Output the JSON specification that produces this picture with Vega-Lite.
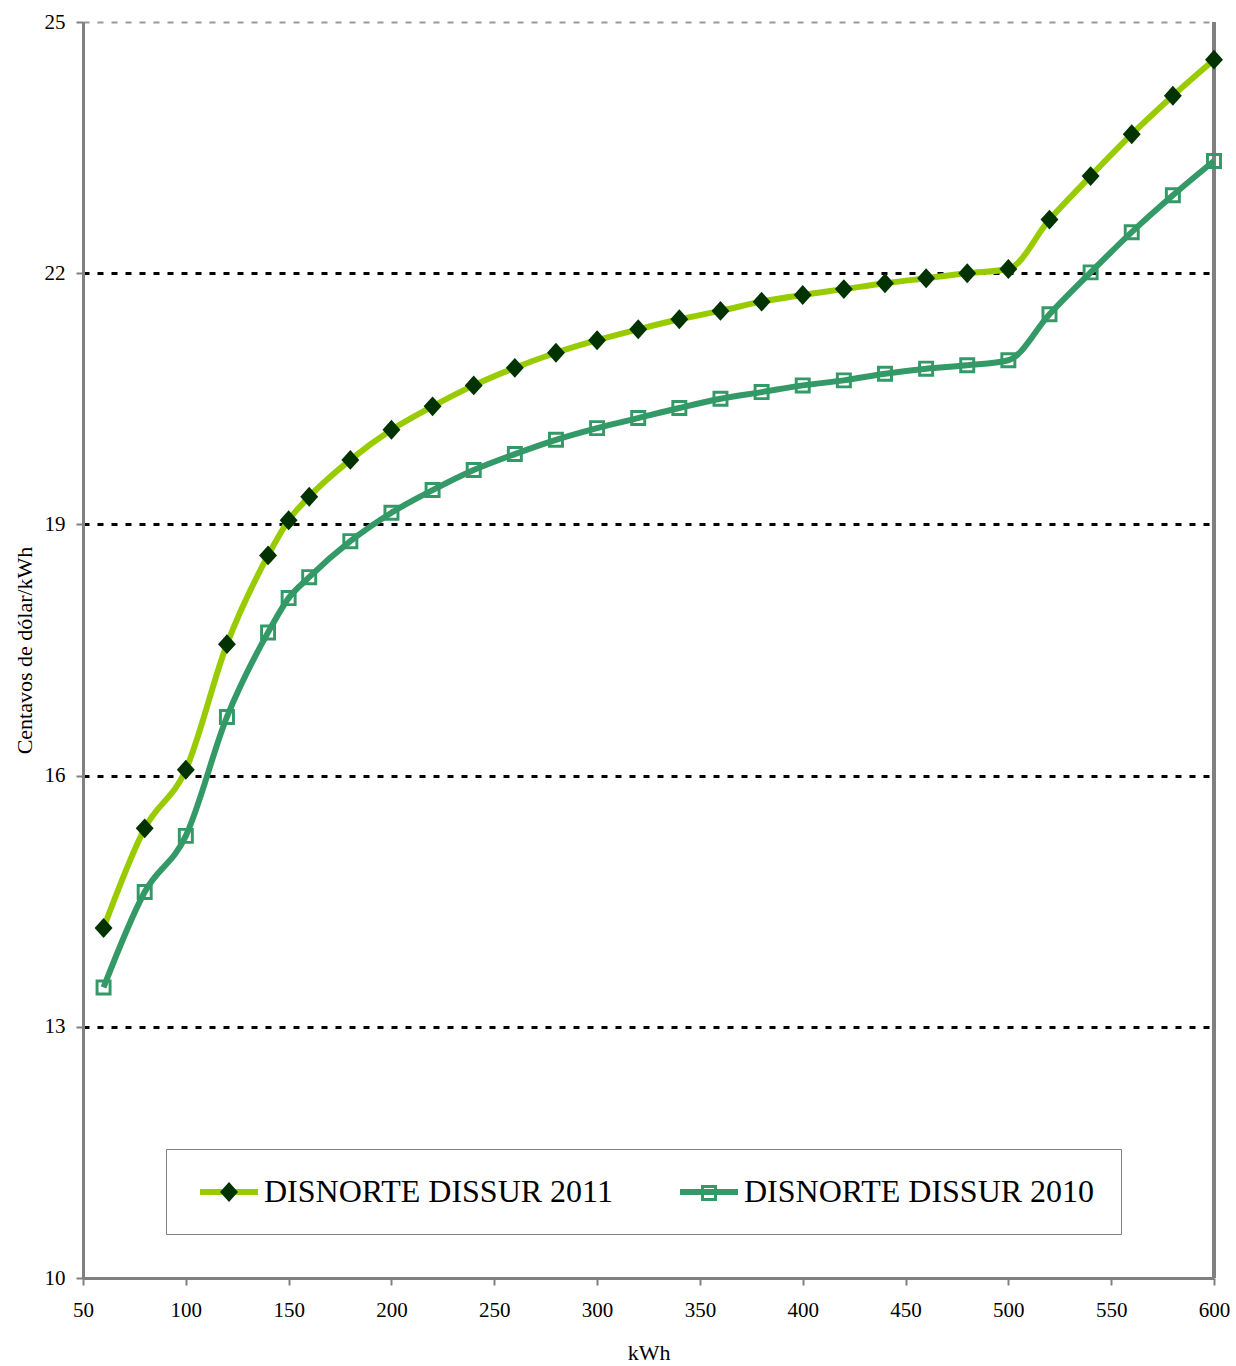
{
  "$schema": "https://vega.github.io/schema/vega-lite/v6.json",
  "width": 1131,
  "height": 1256,
  "autosize": "none",
  "padding": {"left": 83, "top": 22, "right": 22, "bottom": 88},
  "background": "white",
  "config": {"view": {"stroke": null}, "font": "Liberation Serif"},
  "data": {"values": [
    {"kwh": 60, "serie": "DISNORTE DISSUR 2011", "v": 14.18},
    {"kwh": 80, "serie": "DISNORTE DISSUR 2011", "v": 15.37},
    {"kwh": 100, "serie": "DISNORTE DISSUR 2011", "v": 16.07},
    {"kwh": 120, "serie": "DISNORTE DISSUR 2011", "v": 17.57},
    {"kwh": 140, "serie": "DISNORTE DISSUR 2011", "v": 18.63},
    {"kwh": 150, "serie": "DISNORTE DISSUR 2011", "v": 19.05},
    {"kwh": 160, "serie": "DISNORTE DISSUR 2011", "v": 19.33},
    {"kwh": 180, "serie": "DISNORTE DISSUR 2011", "v": 19.77},
    {"kwh": 200, "serie": "DISNORTE DISSUR 2011", "v": 20.13},
    {"kwh": 220, "serie": "DISNORTE DISSUR 2011", "v": 20.41},
    {"kwh": 240, "serie": "DISNORTE DISSUR 2011", "v": 20.66},
    {"kwh": 260, "serie": "DISNORTE DISSUR 2011", "v": 20.87},
    {"kwh": 280, "serie": "DISNORTE DISSUR 2011", "v": 21.05},
    {"kwh": 300, "serie": "DISNORTE DISSUR 2011", "v": 21.2},
    {"kwh": 320, "serie": "DISNORTE DISSUR 2011", "v": 21.33},
    {"kwh": 340, "serie": "DISNORTE DISSUR 2011", "v": 21.45},
    {"kwh": 360, "serie": "DISNORTE DISSUR 2011", "v": 21.55},
    {"kwh": 380, "serie": "DISNORTE DISSUR 2011", "v": 21.66},
    {"kwh": 400, "serie": "DISNORTE DISSUR 2011", "v": 21.74},
    {"kwh": 420, "serie": "DISNORTE DISSUR 2011", "v": 21.81},
    {"kwh": 440, "serie": "DISNORTE DISSUR 2011", "v": 21.88},
    {"kwh": 460, "serie": "DISNORTE DISSUR 2011", "v": 21.94},
    {"kwh": 480, "serie": "DISNORTE DISSUR 2011", "v": 22.0},
    {"kwh": 500, "serie": "DISNORTE DISSUR 2011", "v": 22.05},
    {"kwh": 520, "serie": "DISNORTE DISSUR 2011", "v": 22.64},
    {"kwh": 540, "serie": "DISNORTE DISSUR 2011", "v": 23.16},
    {"kwh": 560, "serie": "DISNORTE DISSUR 2011", "v": 23.66},
    {"kwh": 580, "serie": "DISNORTE DISSUR 2011", "v": 24.12},
    {"kwh": 600, "serie": "DISNORTE DISSUR 2011", "v": 24.55},
    {"kwh": 60, "serie": "DISNORTE DISSUR 2010", "v": 13.47},
    {"kwh": 80, "serie": "DISNORTE DISSUR 2010", "v": 14.61},
    {"kwh": 100, "serie": "DISNORTE DISSUR 2010", "v": 15.28},
    {"kwh": 120, "serie": "DISNORTE DISSUR 2010", "v": 16.7},
    {"kwh": 140, "serie": "DISNORTE DISSUR 2010", "v": 17.71},
    {"kwh": 150, "serie": "DISNORTE DISSUR 2010", "v": 18.12},
    {"kwh": 160, "serie": "DISNORTE DISSUR 2010", "v": 18.37},
    {"kwh": 180, "serie": "DISNORTE DISSUR 2010", "v": 18.8},
    {"kwh": 200, "serie": "DISNORTE DISSUR 2010", "v": 19.14},
    {"kwh": 220, "serie": "DISNORTE DISSUR 2010", "v": 19.41},
    {"kwh": 240, "serie": "DISNORTE DISSUR 2010", "v": 19.65},
    {"kwh": 260, "serie": "DISNORTE DISSUR 2010", "v": 19.84},
    {"kwh": 280, "serie": "DISNORTE DISSUR 2010", "v": 20.01},
    {"kwh": 300, "serie": "DISNORTE DISSUR 2010", "v": 20.15},
    {"kwh": 320, "serie": "DISNORTE DISSUR 2010", "v": 20.27},
    {"kwh": 340, "serie": "DISNORTE DISSUR 2010", "v": 20.39},
    {"kwh": 360, "serie": "DISNORTE DISSUR 2010", "v": 20.5},
    {"kwh": 380, "serie": "DISNORTE DISSUR 2010", "v": 20.58},
    {"kwh": 400, "serie": "DISNORTE DISSUR 2010", "v": 20.66},
    {"kwh": 420, "serie": "DISNORTE DISSUR 2010", "v": 20.72},
    {"kwh": 440, "serie": "DISNORTE DISSUR 2010", "v": 20.8},
    {"kwh": 460, "serie": "DISNORTE DISSUR 2010", "v": 20.86},
    {"kwh": 480, "serie": "DISNORTE DISSUR 2010", "v": 20.9},
    {"kwh": 500, "serie": "DISNORTE DISSUR 2010", "v": 20.96},
    {"kwh": 520, "serie": "DISNORTE DISSUR 2010", "v": 21.51},
    {"kwh": 540, "serie": "DISNORTE DISSUR 2010", "v": 22.01},
    {"kwh": 560, "serie": "DISNORTE DISSUR 2010", "v": 22.49},
    {"kwh": 580, "serie": "DISNORTE DISSUR 2010", "v": 22.93},
    {"kwh": 600, "serie": "DISNORTE DISSUR 2010", "v": 23.34}
  ]},
  "encoding": {
    "x": {
      "field": "kwh", "type": "quantitative",
      "scale": {"domain": [50, 600], "nice": false, "zero": false},
      "axis": {
        "title": "kWh", "values": [50, 100, 150, 200, 250, 300, 350, 400, 450, 500, 550, 600],
        "grid": false, "domainColor": "#808080", "domainWidth": 3,
        "tickColor": "#808080", "tickSize": 7, "tickWidth": 2,
        "labelFont": "Liberation Serif", "labelFontSize": 21, "labelColor": "black", "labelPadding": 14,
        "labelFlush": false, "labelOverlap": false,
        "titleFont": "Liberation Serif", "titleFontSize": 22, "titleFontWeight": "normal", "titleColor": "black",
        "titleY": 74, "titleBaseline": "middle"
      }
    },
    "y": {
      "field": "v", "type": "quantitative",
      "scale": {"domain": [10, 25], "nice": false, "zero": false},
      "axis": {
        "title": "Centavos de dólar/kWh", "values": [10, 13, 16, 19, 22, 25],
        "grid": true,
        "gridColor": {"condition": {"test": "datum.value === 25", "value": "#999999"}, "value": "black"},
        "gridWidth": {"condition": {"test": "datum.value === 25", "value": 2}, "value": 3},
        "gridDash": [6, 8],
        "domainColor": "#808080", "domainWidth": 3,
        "tickColor": "#808080", "tickSize": 7, "tickWidth": 2,
        "labelFont": "Liberation Serif", "labelFontSize": 21, "labelColor": "black", "labelPadding": 11,
        "labelFlush": false, "labelOverlap": false,
        "titleFont": "Liberation Serif", "titleFontSize": 22, "titleFontWeight": "normal", "titleColor": "black",
        "titleX": -59, "titleY": 628, "titleAngle": -90, "titleAlign": "center", "titleBaseline": "middle"
      }
    }
  },
  "layer": [
    {
      "mark": {"type": "rule", "color": "#808080", "strokeWidth": 3},
      "encoding": {"x": {"datum": 600}, "y": null}
    },
    {
      "mark": {"type": "line", "interpolate": "monotone", "strokeWidth": 6},
      "encoding": {
        "color": {
          "field": "serie", "type": "nominal",
          "scale": {"domain": ["DISNORTE DISSUR 2011", "DISNORTE DISSUR 2010"], "range": ["#99CC00", "#339966"]},
          "legend": {
            "orient": "none", "legendX": 83, "legendY": 1127, "direction": "horizontal", "title": null,
            "symbolType": "M-2.07,0H2.07", "symbolSize": 784, "symbolStrokeWidth": 6, "symbolOffset": 20,
            "labelFont": "Liberation Serif", "labelFontSize": 32, "labelColor": "black", "labelOffset": 18,
            "labelLimit": 0, "columnPadding": 55, "padding": 26,
            "strokeColor": "#808080", "fillColor": "white"
          }
        }
      }
    },
    {
      "mark": {"type": "point", "filled": true, "size": 784, "opacity": 1, "strokeWidth": 0},
      "encoding": {
        "fill": {
          "field": "serie", "type": "nominal", "sort": "descending",
          "scale": {"range": ["#003300", "#339966"]},
          "legend": {
            "orient": "none", "legendX": 83, "legendY": 1127, "direction": "horizontal", "title": null,
            "symbolSize": 784, "symbolStrokeWidth": 6, "symbolStrokeColor": "transparent", "symbolOffset": 20,
            "labelFont": "Liberation Serif", "labelFontSize": 32, "labelExpr": "''", "labelOffset": 18,
            "labelLimit": 0, "columnPadding": 408, "padding": 26
          }
        },
        "shape": {
          "field": "serie", "type": "nominal", "sort": "descending",
          "scale": {"range": ["M0,-0.71L0.64,0L0,0.71L-0.64,0Z", "M-0.57,-0.57H0.57V0.57H-0.57Z M-0.36,-0.36V0.36H0.36V-0.36Z"]},
          "legend": {
            "orient": "none", "legendX": 83, "legendY": 1127, "direction": "horizontal", "title": null,
            "symbolSize": 784, "symbolStrokeWidth": 6, "symbolStrokeColor": "transparent", "symbolOffset": 20,
            "labelFont": "Liberation Serif", "labelFontSize": 32, "labelExpr": "''", "labelOffset": 18,
            "labelLimit": 0, "columnPadding": 408, "padding": 26
          }
        }
      }
    }
  ]
}
